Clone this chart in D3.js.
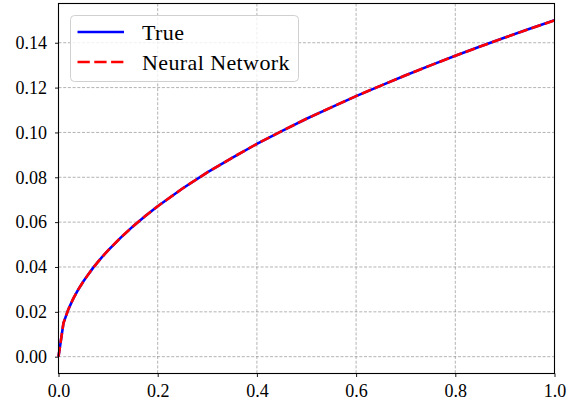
<!DOCTYPE html>
<html><head><meta charset="utf-8">
<script src="https://cdn.jsdelivr.net/npm/d3@7"></script>
<style>html,body{margin:0;padding:0;background:#fff;}svg{display:block;}</style>
</head><body><svg id="c" width="576" height="413"></svg>
<script>
// Data
const xValues = [0, 0.01, 0.02, 0.03, 0.04, 0.05, 0.06, 0.07, 0.08, 0.09, 0.10, 0.125, 0.15, 0.175, 0.20, 0.25, 0.30, 0.35, 0.40, 0.45, 0.50, 0.55, 0.60, 0.65, 0.70, 0.75, 0.80, 0.85, 0.90, 0.95, 1.00];
const trueValues = [0, 0.0150, 0.0212, 0.0260, 0.0300, 0.0335, 0.0367, 0.0397, 0.0424, 0.0450, 0.0474, 0.0530, 0.0581, 0.0627, 0.0671, 0.0750, 0.0822, 0.0887, 0.0949, 0.1006, 0.1061, 0.1112, 0.1162, 0.1209, 0.1255, 0.1299, 0.1342, 0.1383, 0.1423, 0.1462, 0.1500];
const nnValues = [0, 0.0150, 0.0212, 0.0260, 0.0300, 0.0335, 0.0367, 0.0397, 0.0424, 0.0450, 0.0474, 0.0530, 0.0581, 0.0627, 0.0671, 0.0750, 0.0822, 0.0887, 0.0949, 0.1006, 0.1061, 0.1112, 0.1162, 0.1209, 0.1255, 0.1299, 0.1342, 0.1383, 0.1423, 0.1462, 0.1500];
const xTicks = [0, 0.2, 0.4, 0.6, 0.8, 1.0];
const yTicks = [0, 0.02, 0.04, 0.06, 0.08, 0.10, 0.12, 0.14];
const seriesNames = ["True", "Neural Network"];

const svg = d3.select("#c");
const L = 58.5, R = 554.5, T = 3.5, B = 373.5;
const x = d3.scaleLinear().domain([0, 1]).range([L, R]);
const y = d3.scaleLinear().domain([-0.0075, 0.1575]).range([B, T]);
const font = "'Liberation Serif', serif";

// grid
const g = svg.append("g");
g.selectAll(".gx").data(xTicks).enter().append("line")
  .attr("x1", d => x(d)).attr("x2", d => x(d)).attr("y1", T).attr("y2", B)
  .attr("stroke", "#808080").attr("stroke-width", 0.6).attr("stroke-dasharray", "3,1.7");
g.selectAll(".gy").data(yTicks).enter().append("line")
  .attr("x1", L).attr("x2", R).attr("y1", d => y(d)).attr("y2", d => y(d))
  .attr("stroke", "#808080").attr("stroke-width", 0.6).attr("stroke-dasharray", "3,1.7");

// lines
const pts1 = xValues.map((v, i) => [v, trueValues[i]]);
const pts2 = xValues.map((v, i) => [v, nnValues[i]]);
const line = d3.line().x(d => x(d[0])).y(d => y(d[1]));
svg.append("path").attr("d", line(pts1)).attr("fill", "none").attr("stroke", "#0000ff").attr("stroke-width", 2.6);
svg.append("path").attr("d", line(pts2)).attr("fill", "none").attr("stroke", "#ff0000").attr("stroke-width", 2.6).attr("stroke-dasharray", "10,4");

// axes
const xAxis = svg.append("g").attr("transform", `translate(0,${B})`)
  .call(d3.axisBottom(x).tickValues(xTicks).tickFormat(d3.format(".1f")).tickSizeInner(3.5).tickSizeOuter(0).tickPadding(7));
const yAxis = svg.append("g").attr("transform", `translate(${L},0)`)
  .call(d3.axisLeft(y).tickValues(yTicks).tickFormat(d3.format(".2f")).tickSizeInner(3.5).tickSizeOuter(0).tickPadding(8));
[xAxis, yAxis].forEach(a => {
  a.select(".domain").remove();
  a.selectAll("line").attr("stroke", "#000").attr("stroke-width", 0.9);
  a.selectAll("text").attr("font-family", font).attr("font-size", 18).attr("fill", "#000");
});
// frame
svg.append("rect").attr("x", L).attr("y", T).attr("width", R - L).attr("height", B - T)
  .attr("fill", "none").attr("stroke", "#000").attr("stroke-width", 1.1);

// legend
const lg = svg.append("g");
lg.append("rect").attr("x", 70.5).attr("y", 15.5).attr("width", 228).attr("height", 66).attr("rx", 4)
  .attr("fill", "#fff").attr("fill-opacity", 0.8).attr("stroke", "#d0d0d0").attr("stroke-width", 1);
const colors = ["#0000ff", "#ff0000"];
const dashes = [null, "12.3,4.5"];
seriesNames.forEach((n, i) => {
  const yy = 32 + i * 30;
  lg.append("line").attr("x1", 77.5).attr("x2", 124).attr("y1", yy).attr("y2", yy)
    .attr("stroke", colors[i]).attr("stroke-width", 2.6).attr("stroke-dasharray", dashes[i]);
  lg.append("text").attr("x", 142).attr("y", yy + 7.5).text(n)
    .attr("font-family", font).attr("font-size", 22).attr("letter-spacing", 0.4).attr("fill", "#000");
});
</script></body></html>
